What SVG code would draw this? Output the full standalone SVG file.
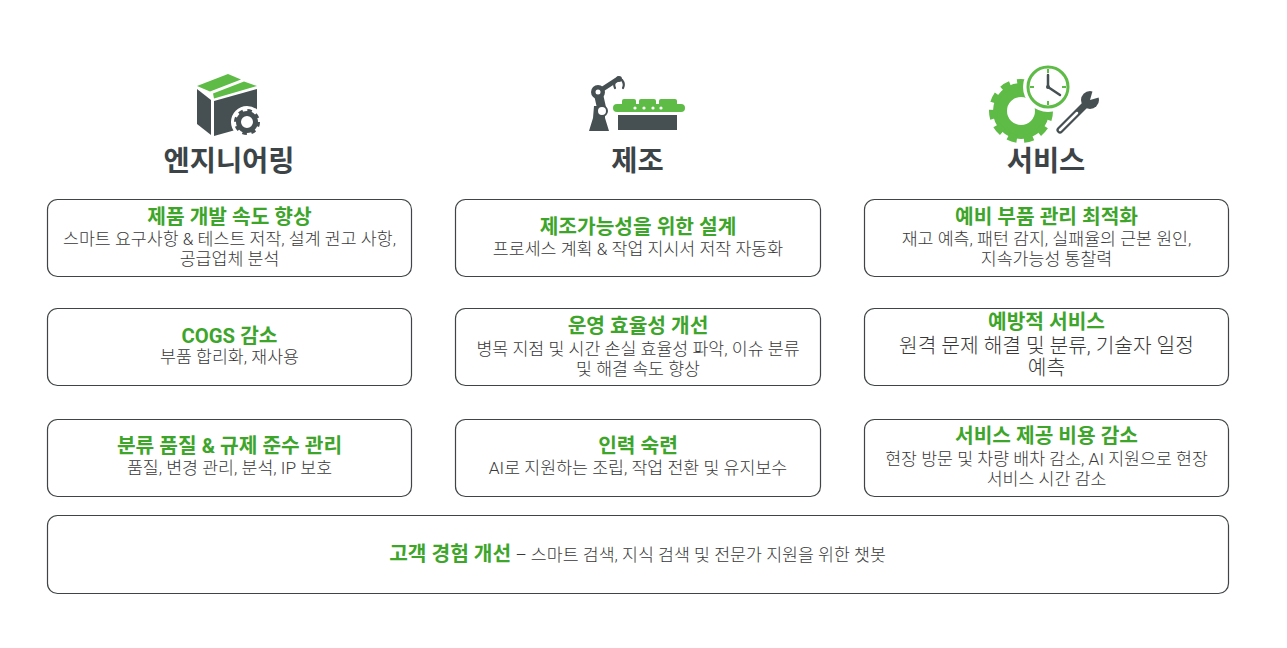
<svg xmlns="http://www.w3.org/2000/svg" width="1287" height="648" viewBox="0 0 1287 648">
<style>
.box{fill:#fff;stroke:#3f4446;stroke-width:1.2}
.hd{font-family:Roboto,"Noto Sans CJK KR",sans-serif;font-weight:700;font-size:28.5px;fill:#3d4447;text-anchor:middle}
.t{font-family:Roboto,"Noto Sans CJK KR",sans-serif;font-weight:700;font-size:20.3px;fill:#3ea52b;text-anchor:middle}
.b{font-family:Roboto,"Noto Sans CJK KR",sans-serif;font-weight:300;font-size:17.3px;fill:#383838;text-anchor:middle}
.bl{font-family:Roboto,"Noto Sans CJK KR",sans-serif;font-weight:300;font-size:20.3px;fill:#383838;text-anchor:middle}
.dk{fill:#465053}
.gr{fill:#5dbb46}
</style>
<rect width="1287" height="648" fill="#fff"/>

<g id="icon-engineering">
  <polygon class="gr" points="197,86 228,74 241,79.5 210,91.5"/>
  <polygon class="gr" points="213,93.5 244,81.5 257,86 214,98.5"/>
  <polygon class="dk" points="197,89 211,100 211,135 197,124"/>
  <polygon class="dk" points="214,101 257,89 257,124 214,136"/>
  <circle cx="247" cy="122" r="16" fill="#fff"/>
  <circle cx="247" cy="122" r="8.5" fill="none" stroke="#465053" stroke-width="5"/>
  <circle cx="247" cy="122" r="11" fill="none" stroke="#465053" stroke-width="4" stroke-dasharray="4.3 4.34"/>
  <circle cx="247" cy="122" r="4" fill="#fff"/>
</g>
<g id="head-engineering"><text class="hd" x="229" y="171">엔지니어링</text></g>

<g id="icon-manufacturing">
  <rect class="dk" x="618" y="115" width="59" height="15"/>
  <rect class="gr" x="622" y="99" width="14" height="8" rx="2"/>
  <rect class="gr" x="639" y="99" width="17" height="8" rx="2"/>
  <rect class="gr" x="659" y="99" width="18" height="8" rx="2"/>
  <rect class="gr" x="613" y="104" width="72" height="8" rx="4"/>
  <circle cx="635" cy="108" r="1.6" fill="#fff"/>
  <circle cx="644" cy="108" r="1.6" fill="#fff"/>
  <circle cx="653" cy="108" r="1.6" fill="#fff"/>
  <circle cx="661" cy="108" r="1.6" fill="#fff"/>
  <polygon class="dk" points="594,106 605,106 605,118 609,131 589,131 593,118"/>
  <line x1="598" y1="92" x2="602" y2="110" stroke="#465053" stroke-width="9" stroke-linecap="round"/>
  <line x1="598" y1="92" x2="618" y2="79" stroke="#465053" stroke-width="5" stroke-linecap="round"/>
  <circle class="dk" cx="598" cy="92" r="7"/>
  <circle cx="598" cy="92" r="2.5" fill="#fff"/>
  <circle cx="602" cy="111" r="5" fill="#fff" stroke="#465053" stroke-width="2"/>
  <circle class="dk" cx="619" cy="79" r="3"/>
  <path d="M616,80 Q613,84 615,88 M622,80 Q625,84 623,88" fill="none" stroke="#465053" stroke-width="2.2" stroke-linecap="round"/>
</g>
<g id="head-manufacturing"><text class="hd" x="637.5" y="171">제조</text></g>

<g id="icon-service">
  <circle cx="1021" cy="111" r="21" fill="none" stroke="#5dbb46" stroke-width="14"/>
  <circle cx="1021" cy="111" r="28" fill="none" stroke="#5dbb46" stroke-width="8" stroke-dasharray="9 7"/>
  <circle cx="1048" cy="87" r="25" fill="#fff"/>
  <circle cx="1048" cy="87" r="20" fill="#fff" stroke="#5dbb46" stroke-width="3"/>
  <path d="M1048,69v4 M1048,101v4 M1030,87h4 M1062,87h4" stroke="#5dbb46" stroke-width="2"/>
  <path d="M1048,87V75 M1048,87L1060,95" stroke="#465053" stroke-width="2.5" stroke-linecap="round"/>
  <circle class="dk" cx="1048" cy="87" r="2"/>
  <g>
    <line x1="1060" y1="130" x2="1087" y2="103" stroke="#fff" stroke-width="12" stroke-linecap="round"/>
    <circle cx="1090" cy="100" r="12" fill="#fff"/>
    <line x1="1060" y1="130" x2="1087" y2="103" stroke="#465053" stroke-width="7" stroke-linecap="round"/>
    <circle class="dk" cx="1090" cy="100" r="9"/>
    <polygon points="1090,100 1094,86 1104,96" fill="#fff"/>
    <line x1="1060" y1="130" x2="1077" y2="113" stroke="#fff" stroke-width="2.5" stroke-linecap="round"/>
  </g>
</g>
<g id="head-service"><text class="hd" x="1046" y="171">서비스</text></g>

<g id="n1">
  <rect class="box" x="47.5" y="199.5" width="364" height="77" rx="10"/>
  <text class="t" x="229.5" y="224">제품 개발 속도 향상</text>
  <text class="b" x="229.5" y="245">스마트 요구사항 &amp; 테스트 저작, 설계 권고 사항,</text>
  <text class="b" x="229.5" y="265">공급업체 분석</text>
</g>
<g id="n2">
  <rect class="box" x="455.5" y="199.5" width="365" height="77" rx="10"/>
  <text class="t" x="638" y="234">제조가능성을 위한 설계</text>
  <text class="b" x="638" y="255">프로세스 계획 &amp; 작업 지시서 저작 자동화</text>
</g>
<g id="n3">
  <rect class="box" x="864.5" y="199.5" width="364" height="77" rx="10"/>
  <text class="t" x="1046.5" y="224">예비 부품 관리 최적화</text>
  <text class="b" x="1046.5" y="245">재고 예측, 패턴 감지, 실패율의 근본 원인,</text>
  <text class="b" x="1046.5" y="265">지속가능성 통찰력</text>
</g>
<g id="n4">
  <rect class="box" x="47.5" y="308.5" width="364" height="77" rx="10"/>
  <text class="t" x="229.5" y="343">COGS 감소</text>
  <text class="b" x="229.5" y="363">부품 합리화, 재사용</text>
</g>
<g id="n5">
  <rect class="box" x="455.5" y="308.5" width="365" height="77" rx="10"/>
  <text class="t" x="638" y="333">운영 효율성 개선</text>
  <text class="b" x="638" y="355">병목 지점 및 시간 손실 효율성 파악, 이슈 분류</text>
  <text class="b" x="638" y="375">및 해결 속도 향상</text>
</g>
<g id="n6">
  <rect class="box" x="864.5" y="308.5" width="364" height="77" rx="10"/>
  <text class="t" x="1046.5" y="329">예방적 서비스</text>
  <text class="bl" x="1046.5" y="353">원격 문제 해결 및 분류, 기술자 일정</text>
  <text class="bl" x="1046.5" y="375">예측</text>
</g>
<g id="n7">
  <rect class="box" x="47.5" y="419.5" width="364" height="77" rx="10"/>
  <text class="t" x="229.5" y="453">분류 품질 &amp; 규제 준수 관리</text>
  <text class="b" x="229.5" y="474">품질, 변경 관리, 분석, IP 보호</text>
</g>
<g id="n8">
  <rect class="box" x="455.5" y="419.5" width="365" height="77" rx="10"/>
  <text class="t" x="638" y="453">인력 숙련</text>
  <text class="b" x="638" y="474">AI로 지원하는 조립, 작업 전환 및 유지보수</text>
</g>
<g id="n9">
  <rect class="box" x="864.5" y="419.5" width="364" height="77" rx="10"/>
  <text class="t" x="1046.5" y="443">서비스 제공 비용 감소</text>
  <text class="b" x="1046.5" y="465">현장 방문 및 차량 배차 감소, AI 지원으로 현장</text>
  <text class="b" x="1046.5" y="485">서비스 시간 감소</text>
</g>
<g id="n10">
  <rect class="box" x="47.5" y="515.5" width="1181" height="78" rx="10"/>
  <text class="b" x="637.5" y="561"><tspan style="font-weight:700;font-size:20.3px;fill:#3ea52b">고객 경험 개선</tspan> – 스마트 검색, 지식 검색 및 전문가 지원을 위한 챗봇</text>
</g>
<g id="connectors"></g>
</svg>
